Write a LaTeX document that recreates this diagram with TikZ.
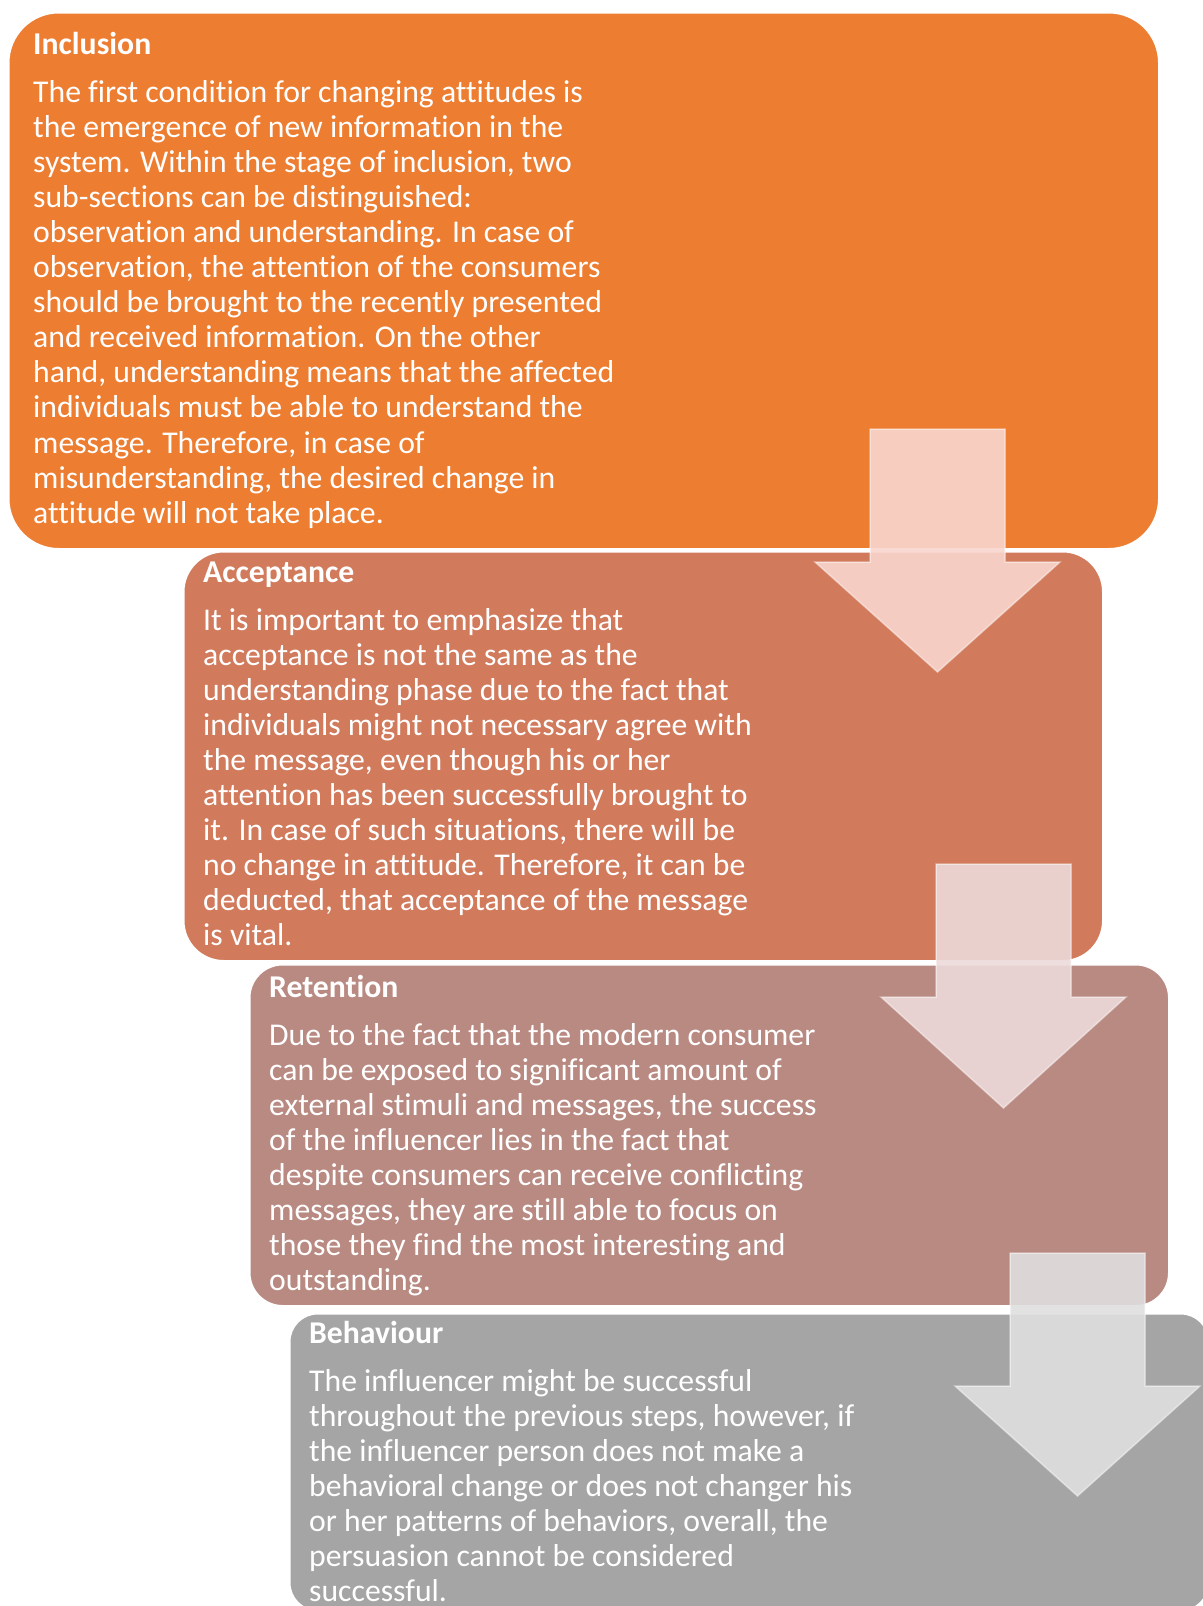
\documentclass[tikz,border=0pt]{standalone}
\usepackage{fontspec}
\setmainfont{Carlito}[Ligatures={NoCommon,NoContextual}]
\definecolor{boxA}{HTML}{ED7D31}
\definecolor{boxB}{HTML}{D17A5C}
\definecolor{boxC}{HTML}{B98A82}
\definecolor{boxD}{HTML}{A5A5A5}
\definecolor{arrA}{HTML}{F8D6CE}
\definecolor{arrB}{HTML}{EDDADA}
\definecolor{arrC}{HTML}{DFDFDF}
\tikzset{
  stagebox/.style={draw=white, line width=1.5pt, anchor=north west, inner sep=0pt},
  flowarrow/.style={draw=white, draw opacity=0.45, line width=1.5pt, fill opacity=0.9},
  ttl/.style={anchor=base west, inner sep=0pt, text=white, font=\fontsize{31.7}{35.1}\selectfont\bfseries},
  bodytxt/.style={anchor=base west, inner sep=0pt, text=white}
}
\newcommand{\bodypar}[1]{\parbox[t]{800pt}{\fontsize{31.7}{35.1}\selectfont\raggedright #1}}
\begin{document}
\begin{tikzpicture}[x=1pt,y=-1pt]
\useasboundingbox (0,0) rectangle (1202,1606);
% Box 1
\node[stagebox, fill=boxA, rounded corners=50pt, minimum width=1150pt, minimum height=536pt] (b1) at (8,12) {};
\node[ttl] (t1) at (33,54) {Inclusion};
\node[bodytxt] (p1) at (33,102) {\bodypar{The first condition for changing attitudes is\\
the emergence of new information in the\\
system. Within the stage of inclusion, two\\
sub-sections can be distinguished:\\
observation and understanding. In case of\\
observation, the attention of the consumers\\
should be brought to the recently presented\\
and received information. On the other\\
hand, understanding means that the affected\\
individuals must be able to understand the\\
message. Therefore, in case of\\
misunderstanding, the desired change in\\
attitude will not take place.}};
% Box 2
\node[stagebox, fill=boxB, rounded corners=40pt, minimum width=919pt, minimum height=409pt] (b2) at (183,551) {};
\node[ttl] (t2) at (203,582) {Acceptance};
\node[bodytxt] (p2) at (203,630) {\bodypar{It is important to emphasize that\\
acceptance is not the same as the\\
understanding phase due to the fact that\\
individuals might not necessary agree with\\
the message, even though his or her\\
attention has been successfully brought to\\
it. In case of such situations, there will be\\
no change in attitude. Therefore, it can be\\
deducted, that acceptance of the message\\
is vital.}};
% Arrow 1
\fill[flowarrow, fill=arrA] (870,429) -- (1005,429) -- (1005,562) -- (1060,562) -- (937.5,672) -- (815,562) -- (870,562) -- cycle;
% Box 3
\node[stagebox, fill=boxC, rounded corners=33pt, minimum width=919pt, minimum height=341pt] (b3) at (249,964) {};
\node[ttl] (t3) at (269,997) {Retention};
\node[bodytxt] (p3) at (269,1045) {\bodypar{Due to the fact that the modern consumer\\
can be exposed to significant amount of\\
external stimuli and messages, the success\\
of the influencer lies in the fact that\\
despite consumers can receive conflicting\\
messages, they are still able to focus on\\
those they find the most interesting and\\
outstanding.}};
% Arrow 2
\fill[flowarrow, fill=arrB] (936,864) -- (1071,864) -- (1071,997) -- (1126,997) -- (1003.5,1108) -- (881,997) -- (936,997) -- cycle;
% Box 4
\node[stagebox, fill=boxD, rounded corners=28pt, minimum width=919pt, minimum height=297pt] (b4) at (289,1313) {};
\node[ttl] (t4) at (309,1343) {Behaviour};
\node[bodytxt] (p4) at (309,1391) {\bodypar{The influencer might be successful\\
throughout the previous steps, however, if\\
the influencer person does not make a\\
behavioral change or does not changer his\\
or her patterns of behaviors, overall, the\\
persuasion cannot be considered\\
successful.}};
% Arrow 3
\fill[flowarrow, fill=arrC] (1010,1253) -- (1145,1253) -- (1145,1386) -- (1200,1386) -- (1077.5,1496) -- (955,1386) -- (1010,1386) -- cycle;
\end{tikzpicture}
\end{document}
